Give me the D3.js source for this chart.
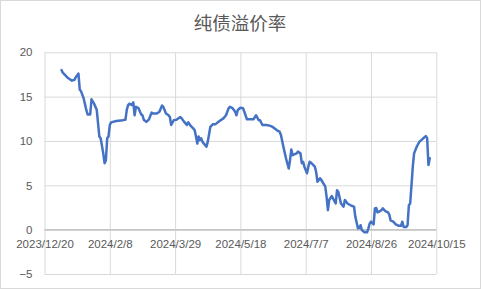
<!DOCTYPE html>
<html>
<head>
<meta charset="utf-8">
<script src="https://cdn.jsdelivr.net/npm/d3@7"></script>
<style>
body { margin: 0; background: #fff; }
text { font-family: "Liberation Sans", Arial, sans-serif; fill: #595959; }
</style>
</head>
<body>
<script>
"use strict";
const title = "纯债溢价率";
const dates = ["2024/1/2", "2024/1/3", "2024/1/5", "2024/1/7", "2024/1/9", "2024/1/10", "2024/1/12", "2024/1/13", "2024/1/15", "2024/1/16",
	"2024/1/17", "2024/1/19", "2024/1/21", "2024/1/22", "2024/1/24", "2024/1/25", "2024/1/27", "2024/1/29", "2024/1/30", "2024/1/31",
	"2024/2/1", "2024/2/3", "2024/2/4", "2024/2/5", "2024/2/6", "2024/2/7", "2024/2/8", "2024/2/9", "2024/2/13", "2024/2/18",
	"2024/2/20", "2024/2/21", "2024/2/22", "2024/2/23", "2024/2/25", "2024/2/26", "2024/2/27", "2024/2/28", "2024/3/1", "2024/3/3",
	"2024/3/4", "2024/3/5", "2024/3/7", "2024/3/9", "2024/3/11", "2024/3/12", "2024/3/15", "2024/3/17", "2024/3/19", "2024/3/20",
	"2024/3/22", "2024/3/24", "2024/3/25", "2024/3/26", "2024/3/28", "2024/3/30", "2024/4/2", "2024/4/3", "2024/4/5", "2024/4/7",
	"2024/4/8", "2024/4/10", "2024/4/12", "2024/4/13", "2024/4/14", "2024/4/15", "2024/4/16", "2024/4/17", "2024/4/18", "2024/4/19",
	"2024/4/22", "2024/4/23", "2024/4/25", "2024/4/27", "2024/4/29", "2024/5/2", "2024/5/5", "2024/5/7", "2024/5/9", "2024/5/10",
	"2024/5/12", "2024/5/14", "2024/5/15", "2024/5/16", "2024/5/18", "2024/5/20", "2024/5/21", "2024/5/23", "2024/5/25", "2024/5/28",
	"2024/5/30", "2024/6/1", "2024/6/2", "2024/6/3", "2024/6/4", "2024/6/7", "2024/6/10", "2024/6/12", "2024/6/15", "2024/6/17",
	"2024/6/18", "2024/6/20", "2024/6/22", "2024/6/24", "2024/6/25", "2024/6/26", "2024/6/27", "2024/6/30", "2024/7/1", "2024/7/3",
	"2024/7/4", "2024/7/5", "2024/7/6", "2024/7/8", "2024/7/9", "2024/7/10", "2024/7/11", "2024/7/14", "2024/7/15", "2024/7/16",
	"2024/7/18", "2024/7/19", "2024/7/22", "2024/7/23", "2024/7/24", "2024/7/25", "2024/7/27", "2024/7/28", "2024/7/30", "2024/7/31",
	"2024/8/1", "2024/8/3", "2024/8/5", "2024/8/6", "2024/8/8", "2024/8/11", "2024/8/13", "2024/8/14", "2024/8/16", "2024/8/17",
	"2024/8/18", "2024/8/19", "2024/8/21", "2024/8/23", "2024/8/24", "2024/8/25", "2024/8/26", "2024/8/28", "2024/8/29", "2024/8/30",
	"2024/8/31", "2024/9/2", "2024/9/3", "2024/9/4", "2024/9/6", "2024/9/8", "2024/9/9", "2024/9/10", "2024/9/12", "2024/9/14",
	"2024/9/16", "2024/9/18", "2024/9/19", "2024/9/20", "2024/9/22", "2024/9/23", "2024/9/24", "2024/9/25", "2024/9/26", "2024/9/27",
	"2024/9/28", "2024/9/30", "2024/10/2", "2024/10/5", "2024/10/7", "2024/10/8", "2024/10/9", "2024/10/10"];
const values = [18.0, 17.7, 17.4, 17.1, 16.9, 16.8, 16.9, 17.2, 17.6, 15.8,
	15.6, 14.8, 13.5, 13.0, 13.0, 14.7, 14.2, 13.5, 12.0, 10.5,
	10.3, 8.6, 7.5, 7.8, 10.3, 10.5, 11.8, 12.1, 12.25, 12.35,
	12.4, 13.5, 14.05, 14.2, 14.05, 14.35, 12.9, 13.85, 13.7, 13.0,
	12.9, 12.4, 12.15, 12.45, 13.2, 13.1, 13.1, 13.3, 14.0, 13.85,
	13.1, 12.9, 12.7, 11.8, 12.35, 12.4, 12.7, 12.55, 12.15, 11.8,
	12.1, 11.7, 11.4, 11.2, 10.5, 9.7, 10.5, 10.1, 10.3, 9.9,
	9.35, 9.9, 11.6, 11.9, 11.9, 12.25, 12.55, 12.9, 13.7, 13.85,
	13.7, 13.3, 12.9, 13.5, 13.75, 13.7, 13.3, 12.45, 12.45, 12.45,
	12.9, 12.35, 12.35, 12.05, 11.8, 11.8, 11.7, 11.55, 11.2, 11.05,
	10.7, 9.3, 8.0, 6.9, 7.85, 9.05, 8.4, 8.6, 8.8, 8.6,
	7.5, 7.65, 7.1, 6.35, 7.1, 7.65, 7.55, 7.1, 6.5, 5.4,
	5.8, 5.6, 4.85, 3.7, 2.2, 3.35, 3.8, 3.5, 2.95, 4.45,
	4.25, 2.95, 2.6, 3.35, 2.95, 2.7, 2.6, 1.45, 0.15, 0.2,
	0.5, -0.05, -0.3, -0.3, 0.15, 0.7, 0.9, 0.6, 2.4, 2.45,
	1.95, 2.1, 2.2, 2.4, 2.1, 1.95, 1.7, 1.05, 0.9, 0.6,
	0.45, 0.45, 0.9, 0.3, 0.3, 0.5, 2.75, 2.95, 5.0, 7.1,
	8.6, 9.35, 9.9, 10.3, 10.55, 10.3, 7.3, 8.05];
const xTicks = ["2023/12/20", "2024/2/8", "2024/3/29", "2024/5/18", "2024/7/7", "2024/8/26", "2024/10/15"];
const xDomain = ["2023/12/20", "2024/10/15"];
const yTicks = [-5, 0, 5, 10, 15, 20];

const size = {"width": 481, "height": 289};
const box = {"left": 44.5, "right": 436.3, "top": 52.3, "bottom": 274};
const parse = d3.utcParse("%Y/%m/%d");
const fmt = d3.utcFormat("%Y/%-m/%-d");
const data = dates.map((d, i) => ({"date": parse(d), "value": values[i]}));

const svg = d3.select("body").append("svg").attr("width", size.width).attr("height", size.height);
svg.append("rect").attr("x", 0.5).attr("y", 0.5).attr("width", size.width - 1).attr("height", size.height - 1)
	.attr("fill", "#fff").attr("stroke", "#d9d9d9");

svg.append("text").attr("x", 240).attr("y", 30).attr("text-anchor", "middle")
	.style("font-family", "'Noto Sans CJK SC', sans-serif").style("font-size", "18.5px")
	.text(title);

const x = d3.scaleUtc().domain(xDomain.map(parse)).range([box.left, box.right]);
const y = d3.scaleLinear().domain([-5, 20]).range([box.bottom, box.top]);

// grid
const yGrid = svg.append("g").attr("transform", "translate(" + box.left + ",0)")
	.call(d3.axisLeft(y).tickValues(yTicks).tickSize(-(box.right - box.left)).tickPadding(12).tickFormat(d3.format("d")));
yGrid.select(".domain").remove();
yGrid.selectAll("line").attr("stroke", d => d === 0 ? "#bfbfbf" : "#d9d9d9");
yGrid.selectAll("text").style("font-size", "11.5px").attr("fill", "#595959");

const xGrid = svg.append("g").attr("transform", "translate(0," + box.bottom + ")")
	.call(d3.axisBottom(x).tickValues(xTicks.map(parse)).tickSize(-(box.bottom - box.top)).tickFormat(""));
xGrid.select(".domain").remove();
xGrid.selectAll("line").attr("stroke", "#d9d9d9");

svg.append("line").attr("x1", box.left).attr("x2", box.right).attr("y1", y(0)).attr("y2", y(0)).attr("stroke", "#bfbfbf");

const xAxis = svg.append("g").attr("transform", "translate(0," + y(0) + ")")
	.call(d3.axisBottom(x).tickValues(xTicks.map(parse)).tickSize(0).tickPadding(10).tickFormat(fmt));
xAxis.select(".domain").remove();
xAxis.selectAll("text").style("font-size", "11.5px").attr("fill", "#595959");

const line = d3.line().x(d => x(d.date)).y(d => y(d.value));
svg.append("path").datum(data).attr("d", line)
	.attr("fill", "none").attr("stroke", "#4472c4").attr("stroke-width", 2.5)
	.attr("stroke-linejoin", "round").attr("stroke-linecap", "round");
</script>
</body>
</html>
